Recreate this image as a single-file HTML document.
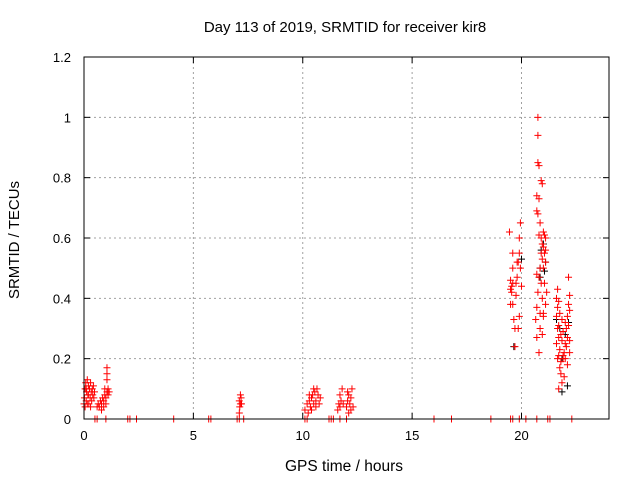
<!DOCTYPE html>
<html><head><meta charset="utf-8"><style>
body{margin:0;background:#fff}
svg{display:block;font-family:"Liberation Sans",sans-serif}
</style></head><body>
<svg id="chart" width="640" height="480" viewBox="0 0 640 480">
<text x="345" y="32" font-size="15" text-anchor="middle">Day 113 of 2019, SRMTID for receiver kir8</text>
<text x="344" y="471" font-size="15.5" text-anchor="middle">GPS time / hours</text>
<text transform="translate(19,240) rotate(-90)" font-size="15" text-anchor="middle">SRMTID / TECUs</text>
<g id="grid"></g><g id="ticks"></g><g id="black"></g><g id="red"></g>
<rect x="84" y="57" width="525" height="362" fill="none" stroke="#000" stroke-width="1"/>
</svg>
<script>
const xTicks=[0,5,10,15,20];
const yTicks=[0,0.2,0.4,0.6,0.8,1,1.2];
const yTickLabels=["0","0.2","0.4","0.6","0.8","1","1.2"];
const zeroTimes=[0.5,0.6,1.0,2.0,2.1,2.4,4.1,5.7,5.8,7.0,7.1,7.3,10.1,10.2,11.2,11.3,11.4,11.7,12.0,16.0,16.8,18.6,19.5,19.6,19.9,20.2,20.7,21.2,21.3,22.3];
const redPoints=[
[0,0.05],[0.02,0.07],[0.05,0.1],[0.08,0.12],[0.1,0.06],[0.12,0.09],[0.15,0.13],[0.18,0.08],[0.2,0.11],[0.22,0.05],[0.25,0.1],[0.28,0.07],[0.3,0.12],[0.33,0.09],[0.35,0.06],[0.38,0.1],[0.4,0.08],[0.43,0.11],[0.45,0.07],[0.48,0.09],[0.05,0.04],[0.15,0.05],[0.3,0.04],[0.1,0.1],[0.2,0.08],
[0.6,0.04],[0.65,0.05],[0.7,0.04],[0.75,0.06],[0.8,0.05],[0.85,0.07],[0.9,0.06],[0.95,0.08],[1.0,0.07],[1.05,0.09],[1.1,0.08],[1.15,0.09],[0.8,0.03],[0.9,0.04],[1.0,0.05],[1.05,0.13],[1.05,0.15],[1.05,0.17],[0.95,0.1],[1.1,0.1],
[7.1,0.02],[7.12,0.04],[7.15,0.05],[7.1,0.06],[7.18,0.07],[7.15,0.08],[7.2,0.05],
[10.1,0.03],[10.2,0.05],[10.25,0.02],[10.3,0.06],[10.35,0.04],[10.4,0.07],[10.45,0.08],[10.5,0.05],[10.55,0.09],[10.6,0.06],[10.65,0.1],[10.7,0.08],[10.75,0.05],[10.5,0.1],[10.4,0.03],[10.6,0.04],[10.8,0.07],[10.3,0.08],
[11.6,0.03],[11.65,0.05],[11.7,0.04],[11.75,0.06],[11.7,0.08],[11.8,0.1],[11.85,0.05],
[12.0,0.04],[12.05,0.06],[12.1,0.02],[12.1,0.08],[12.15,0.05],[12.2,0.07],[12.25,0.1],[12.3,0.04],[12.2,0.03],[12.05,0.09],
[19.45,0.62],[19.5,0.46],[19.55,0.44],[19.5,0.43],[19.6,0.45],[19.55,0.42],[19.6,0.38],[19.5,0.38],[19.65,0.33],[19.7,0.3],[19.75,0.41],[19.8,0.47],[19.85,0.52],[19.9,0.55],[19.95,0.65],[19.9,0.6],[19.95,0.5],[20.0,0.44],[19.9,0.34],[19.85,0.3],[19.7,0.24],[19.8,0.52],[19.6,0.5],[19.75,0.45],[19.6,0.55],
[20.75,1.0],[20.75,0.94],[20.75,0.85],[20.8,0.84],[20.9,0.79],[20.95,0.78],[20.7,0.74],[20.8,0.73],[20.7,0.69],[20.75,0.68],[20.85,0.65],[20.8,0.61],[20.9,0.6],[20.95,0.58],[21.0,0.62],[21.05,0.61],[21.1,0.6],[21.0,0.57],[21.05,0.55],[20.95,0.53],[21.1,0.52],[21.0,0.5],[20.85,0.5],[20.7,0.48],[20.8,0.47],[20.9,0.45],[21.05,0.45],[20.75,0.42],[20.95,0.4],[21.1,0.38],[20.7,0.37],[20.85,0.35],[21.0,0.34],[20.65,0.33],[20.85,0.3],[20.95,0.28],[20.7,0.27],[20.8,0.22],[21.0,0.35],[21.15,0.42],[21.1,0.56],[20.9,0.55],
[21.6,0.34],[21.65,0.3],[21.7,0.27],[21.6,0.25],[21.75,0.23],[21.65,0.2],[21.7,0.21],[21.8,0.19],[21.75,0.17],[21.8,0.15],[21.85,0.12],[21.7,0.1],[21.9,0.2],[21.95,0.22],[21.85,0.26],[21.9,0.29],[22.0,0.32],[22.05,0.3],[22.1,0.34],[22.15,0.38],[22.2,0.41],[22.15,0.47],[22.2,0.36],[22.1,0.27],[22.05,0.24],[22.0,0.2],[22.1,0.18],[22.2,0.22],[21.95,0.14],[21.85,0.33],[21.75,0.35],[21.65,0.37],[21.7,0.31],[21.8,0.28],[22.0,0.25],[21.9,0.21],[21.6,0.4],[21.65,0.43],[21.7,0.39],[22.15,0.31],[22.2,0.26]
];
const blackPoints=[[19.65,0.24],[20.0,0.53],[20.85,0.5],[20.9,0.56],[21.0,0.58],[21.1,0.52],[21.05,0.49],[21.6,0.33],[21.75,0.3],[21.85,0.2],[22.0,0.28],[22.15,0.32],[21.85,0.09],[22.1,0.11],[20.85,0.47]];

const X0=84,X1=609,Y0=419,Y1=57,XMAX=24,YMAX=1.2;
function sx(v){return X0+(X1-X0)*v/XMAX;}
function sy(v){return Y0-(Y0-Y1)*v/YMAX;}
const NS="http://www.w3.org/2000/svg";
function mk(tag,attrs,parent){const e=document.createElementNS(NS,tag);for(const k in attrs)e.setAttribute(k,attrs[k]);parent.appendChild(e);return e;}
const grid=document.getElementById('grid'),ticks=document.getElementById('ticks');
xTicks.forEach(function(t){
  const x=sx(t);
  if(t>0){const g=mk('line',{x1:x,x2:x,y1:Y0,y2:Y1,stroke:'#a0a0a0','stroke-dasharray':'2,3'},grid);
  
  }
  mk('line',{x1:x,x2:x,y1:Y0,y2:Y0-6,stroke:'#000'},ticks);
  mk('line',{x1:x,x2:x,y1:Y1,y2:Y1+6,stroke:'#000'},ticks);
  const l=mk('text',{x:x,y:Y0+21,'font-size':'13','text-anchor':'middle'},ticks);
  l.textContent=String(t);
  
  
});
yTicks.forEach(function(t,i){
  const y=sy(t);
  if(t>0&&t<YMAX){const g=mk('line',{x1:X0,x2:X1,y1:y,y2:y,stroke:'#a0a0a0','stroke-dasharray':'2,3'},grid);
  
  }
  mk('line',{x1:X0,x2:X0+6,y1:y,y2:y,stroke:'#000'},ticks);
  mk('line',{x1:X1,x2:X1-6,y1:y,y2:y,stroke:'#000'},ticks);
  const l=mk('text',{x:71,y:y+5,'font-size':'13','text-anchor':'end'},ticks);
  l.textContent=yTickLabels[i];
  
  
});
function plus(g,x,y,c){
  const p=mk('path',{d:'M'+(x-3.5)+' '+y+'H'+(x+3.5)+'M'+x+' '+(y-3.5)+'V'+(y+3.5),stroke:c,'stroke-width':'1',fill:'none'},g);
  return p;
}
const bg=document.getElementById('black'),rg=document.getElementById('red');
blackPoints.forEach(function(p){
  const e=plus(bg,sx(p[0]),sy(p[1]),'#000');
  
  
});
redPoints.forEach(function(p){
  const e=plus(rg,sx(p[0]),sy(p[1]),'#ff0000');
  
  
});
zeroTimes.forEach(function(t){
  const e=plus(rg,sx(t),sy(0),'#ff0000');
  
  
});
</script>
</body></html>
